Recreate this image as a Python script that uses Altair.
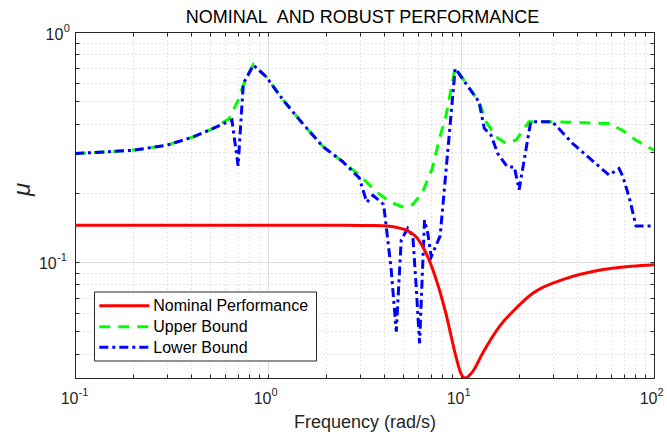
import altair as alt
import pandas as pd

# ---------------- data ----------------
nom_w = [0.1, 0.5, 1.0, 2.0, 3.0, 3.6, 4.1, 4.6, 5.2, 6.0, 6.6, 7.4, 8.35, 9.4, 10.0,
         10.5, 11.47, 12.92, 15.77, 19.21, 23.45, 34.9, 51.9, 77.0, 100.0]
nom_mu = [0.1443, 0.1443, 0.1443, 0.1443, 0.1442, 0.1440, 0.1433, 0.1415, 0.1375, 0.1255,
          0.109, 0.085, 0.0598, 0.039, 0.0327, 0.0313, 0.0333, 0.040, 0.0522,
          0.0627, 0.0729, 0.0846, 0.092, 0.0958, 0.0973]

up_w = [0.1, 0.2, 0.3, 0.41, 0.52, 0.63, 0.70, 0.76, 0.84, 0.98, 1.2, 1.46, 1.93, 2.44,
        2.98, 3.63, 4.3, 5.1, 5.63, 6.3, 7.1, 7.74, 8.34, 9.33, 12.4, 13.5, 15.2, 17.1,
        19.3, 22.5, 29.8, 58.5, 68.5, 80.4, 100.0]
up_mu = [0.296, 0.306, 0.322, 0.35, 0.381, 0.421, 0.505, 0.617, 0.722, 0.638, 0.505,
         0.414, 0.317, 0.273, 0.2385, 0.2025, 0.182, 0.1725, 0.178, 0.2, 0.255, 0.345,
         0.428, 0.70, 0.497, 0.407, 0.35, 0.328, 0.339, 0.407, 0.407, 0.40, 0.374,
         0.339, 0.306]

lo_w = [0.1, 0.2, 0.3, 0.41, 0.52, 0.65, 0.70, 0.745, 0.84, 0.98, 1.2, 1.46, 1.93, 2.44,
        2.97, 3.25, 3.5, 3.97, 4.1, 4.35, 4.62, 4.9, 5.3, 5.63, 5.86, 6.1, 6.47, 6.73,
        7.01, 7.8, 9.33, 12.4, 13.2, 14.3, 15.5, 17.4, 18.9, 20.0, 22.97, 29.8, 37.8,
        49.9, 58.5, 65.9, 69.0, 74.5, 80.7, 100.0]
lo_mu = [0.296, 0.306, 0.322, 0.35, 0.381, 0.415, 0.262, 0.597, 0.717, 0.638, 0.505,
         0.414, 0.317, 0.273, 0.232, 0.182, 0.195, 0.178, 0.1423, 0.0923, 0.0498, 0.1246,
         0.140, 0.1288, 0.078, 0.0443, 0.152, 0.1332, 0.1054, 0.130, 0.694, 0.497, 0.381,
         0.356, 0.296, 0.259, 0.259, 0.206, 0.407, 0.407, 0.328, 0.268, 0.2385, 0.255,
         0.235, 0.19, 0.1433, 0.1433]

x_ticks = [0.1, 0.2, 0.3, 0.4, 0.5, 0.6, 0.7, 0.8, 0.9,
           1, 2, 3, 4, 5, 6, 7, 8, 9,
           10, 20, 30, 40, 50, 60, 70, 80, 90, 100]
y_ticks = [0.04, 0.05, 0.06, 0.07, 0.08, 0.09,
           0.1, 0.2, 0.3, 0.4, 0.5, 0.6, 0.7, 0.8, 0.9, 1]

# decade tick labels: base "10" with exponent
x_lab_vals = [0.1, 1, 10, 100]
x_lab_exp = ["-1", "0", "1", "2"]
y_lab_vals = [0.1, 1]
y_lab_exp = ["-1", "0"]

series = ["Nominal Performance", "Upper Bound", "Lower Bound"]
title_text = "NOMINAL\u00a0 AND ROBUST PERFORMANCE"

df_nom = pd.DataFrame({"w": nom_w, "mu": nom_mu})
df_up = pd.DataFrame({"w": up_w, "mu": up_mu})
df_lo = pd.DataFrame({"w": lo_w, "mu": lo_mu})

# ---------------- styling ----------------
FONT = "Liberation Sans"
AX = "#262626"
W, H = 579, 346

xs = alt.Scale(type="log", domain=[0.1, 100], nice=False)
ys = alt.Scale(type="log", domain=[0.0313, 1], nice=False)

major = ("datum.value == 0.1 || datum.value == 1 || "
         "datum.value == 10 || datum.value == 100")
grid_dash = {"condition": {"test": major, "value": []}, "value": [1, 3]}
grid_color = {"condition": {"test": major, "value": "#dedede"}, "value": "#c8c8c8"}

x_main = alt.Axis(orient="bottom", values=x_ticks, labels=False, grid=True,
                  gridDash=grid_dash, gridColor=grid_color, gridWidth=1, ticks=False,
                  domain=True, domainColor=AX, domainWidth=1,
                  title="Frequency (rad/s)", titleFont=FONT,
                  titleFontSize=18, titleFontWeight="normal", titleColor=AX,
                  titleX=W / 2, titleY=49, titleAlign="center",
                  titleBaseline="alphabetic")
y_main = alt.Axis(orient="left", values=y_ticks, labels=False, grid=True,
                  gridDash=grid_dash, gridColor=grid_color, gridWidth=1, ticks=False,
                  domain=True, domainColor=AX, domainWidth=1,
                  title="μ", titleFont=FONT, titleFontSize=24,
                  titleFontStyle="italic", titleFontWeight="normal", titleColor=AX,
                  titleAngle=270, titleX=-53, titleY=157, titleAlign="center",
                  titleBaseline="middle")

inward = {"expr": "-4"}
x_bot_ticks = alt.Axis(orient="bottom", values=x_ticks, labels=False, grid=False,
                       domain=False, ticks=True, tickSize=inward, tickColor=AX,
                       tickWidth=1, title="")
x_top_ticks = alt.Axis(orient="top", values=x_ticks, labels=False, grid=False,
                       domain=True, domainColor=AX, domainWidth=1, ticks=True,
                       tickSize=inward, tickColor=AX, tickWidth=1, title="")
y_left_ticks = alt.Axis(orient="left", values=y_ticks, labels=False, grid=False,
                        domain=False, ticks=True, tickSize=inward, tickColor=AX,
                        tickWidth=1, title="")
y_right_ticks = alt.Axis(orient="right", values=y_ticks, labels=False, grid=False,
                         domain=True, domainColor=AX, domainWidth=1, ticks=True,
                         tickSize=inward, tickColor=AX, tickWidth=1, title="")

GREEN_DASH = [11, 8]
BLUE_DASH = [9, 4, 3, 4]

green = alt.Chart(df_up).mark_line(color="#00ff00", strokeWidth=3, strokeDash=GREEN_DASH,
                                   clip=True).encode(
    x=alt.X("w:Q", scale=xs, axis=x_bot_ticks),
    y=alt.Y("mu:Q", scale=ys, axis=y_left_ticks))

blue = alt.Chart(df_lo).mark_line(color="#0000ff", strokeWidth=3, strokeDash=BLUE_DASH,
                                  clip=True).encode(
    x=alt.X("w:Q", scale=xs, axis=x_top_ticks),
    y=alt.Y("mu:Q", scale=ys, axis=y_right_ticks))

red = alt.Chart(df_nom).mark_line(color="#ff0000", strokeWidth=3, interpolate="monotone",
                                  clip=True).encode(
    x=alt.X("w:Q", scale=xs, axis=x_main),
    y=alt.Y("mu:Q", scale=ys, axis=y_main))

# ---------------- tick labels 10^n (base + superscript) ----------------
df_xl = pd.DataFrame({"w": x_lab_vals, "b": ["10"] * len(x_lab_vals), "e": x_lab_exp})
x_base = alt.Chart(df_xl).mark_text(align="right", baseline="alphabetic", dx=3.5,
                                    font=FONT, fontSize=16, color=AX).encode(
    x=alt.X("w:Q", scale=xs, axis=None), y=alt.value(H + 26), text="b:N")
x_exp = alt.Chart(df_xl).mark_text(align="left", baseline="alphabetic", dx=3.5,
                                   font=FONT, fontSize=11, color=AX).encode(
    x=alt.X("w:Q", scale=xs, axis=None), y=alt.value(H + 18), text="e:N")

y_label_layers = []
y_right_edges = [-18.3, -11.7]
for v, e, xr in zip(y_lab_vals, y_lab_exp, y_right_edges):
    d = pd.DataFrame({"mu": [v], "b": ["10"], "e": [e]})
    y_label_layers.append(
        alt.Chart(d).mark_text(align="right", baseline="alphabetic", dy=7.5,
                               font=FONT, fontSize=16, color=AX).encode(
            y=alt.Y("mu:Q", scale=ys, axis=None), x=alt.value(xr), text="b:N"))
    y_label_layers.append(
        alt.Chart(d).mark_text(align="left", baseline="alphabetic", dy=-0.5,
                               font=FONT, fontSize=11, color=AX).encode(
            y=alt.Y("mu:Q", scale=ys, axis=None), x=alt.value(xr + 0.5), text="e:N"))

# ---------------- title ----------------
title_layer = alt.Chart(pd.DataFrame({"t": [title_text]})).mark_text(
    align="center", baseline="alphabetic", font=FONT, fontSize=18, color="#000000"
).encode(x=alt.value(W / 2 - 2), y=alt.value(-8.7), text="t:N")

# ---------------- legend (boxed, MATLAB style) ----------------
one = pd.DataFrame({"k": [0]})
leg_box = alt.Chart(one).mark_rect(fill="white", stroke=AX, strokeWidth=1).encode(
    x=alt.value(19.5), x2=alt.value(241.5), y=alt.value(260), y2=alt.value(329))

rows_y = [273.7, 294.7, 315.3]
styles = [
    dict(color="#ff0000"),
    dict(color="#00ff00", strokeDash=GREEN_DASH),
    dict(color="#0000ff", strokeDash=BLUE_DASH),
]
leg_layers = [leg_box]
for name, ry, st in zip(series, rows_y, styles):
    leg_layers.append(
        alt.Chart(one).mark_rule(strokeWidth=3, **st).encode(
            x=alt.value(24.3), x2=alt.value(74.3), y=alt.value(ry)))
    leg_layers.append(
        alt.Chart(pd.DataFrame({"t": [name]})).mark_text(
            align="left", baseline="middle", font=FONT, fontSize=16, color="#000000"
        ).encode(x=alt.value(78.3), y=alt.value(ry + 0.5), text="t:N"))

chart = alt.layer(
    green, blue, red, x_base, x_exp, *y_label_layers, title_layer, *leg_layers
).resolve_axis(
    x="independent", y="independent"
).properties(
    width=W, height=H,
    padding={"left": 75, "top": 32, "right": 13, "bottom": 56},
    autosize=alt.AutoSizeParams(type="none"),
    background="white",
).configure_view(stroke="transparent")

chart.save("out.html", embed_options={"renderer": "svg", "actions": False})
